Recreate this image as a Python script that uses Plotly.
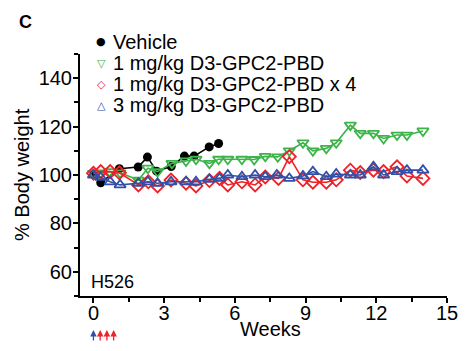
import plotly.graph_objects as go

# ---------------- data ----------------
veh_weeks = [0, 0.31, 1.1, 1.9, 2.29, 2.68, 3.3, 3.86, 4.27, 4.91, 5.31]
veh_bw = [100.4, 96.8, 102.6, 103.3, 107.4, 101.6, 103.5, 107.8, 107.8, 111.6, 113.0]

g_weeks = [0, 0.31, 0.68, 1.13, 1.91, 2.31, 2.72, 3.33, 3.93, 4.35, 4.92, 5.31, 5.7,
           6.3, 6.82, 7.29, 7.82, 8.31, 8.89, 9.31, 9.88, 10.3, 10.9, 11.32, 11.88,
           12.31, 12.88, 13.3, 13.98]
g_bw = [100.7, 100.9, 101.4, 100.9, 97.9, 102.8, 101.4, 104.8, 105.8, 106.5, 104.8,
        106.5, 106.5, 106.5, 106.4, 107.7, 107.5, 110.0, 113.3, 110.0, 111.0, 113.3,
        120.6, 117.2, 117.2, 115.1, 116.5, 116.5, 118.2]

r_weeks = [0, 0.31, 0.71, 1.1, 1.91, 2.33, 2.72, 3.29, 3.93, 4.35, 4.92, 5.35, 5.7,
           6.3, 6.86, 7.29, 7.85, 8.31, 8.89, 9.31, 9.88, 10.3, 10.9, 11.32, 11.88,
           12.31, 12.88, 13.3, 13.98]
r_bw = [100.7, 101.4, 101.4, 100.9, 95.9, 97.2, 95.5, 97.9, 96.6, 95.5, 97.7, 98.6,
        95.9, 97.2, 95.9, 99.2, 98.6, 107.6, 98.0, 97.0, 97.0, 98.0, 102.0, 101.0,
        102.0, 101.4, 103.4, 99.6, 98.6]

b_weeks = [0, 0.31, 0.71, 1.13, 1.91, 2.31, 2.72, 3.29, 3.93, 4.35, 4.92, 5.35, 5.7,
           6.3, 6.86, 7.29, 7.78, 8.31, 8.89, 9.31, 9.88, 10.3, 10.9, 11.32, 11.88,
           12.31, 12.88, 13.3, 13.98]
b_bw = [100.0, 99.0, 97.2, 95.9, 96.6, 97.2, 96.6, 97.2, 97.2, 97.2, 98.2, 98.6,
        100.0, 99.3, 100.0, 99.3, 100.0, 98.6, 99.6, 101.4, 99.3, 100.4, 100.0, 100.0,
        103.4, 100.0, 101.4, 102.0, 102.0]

dose_blue_weeks = [0]
dose_red_weeks = [2 / 7, 4 / 7, 6 / 7]

names = ["Vehicle", "1 mg/kg D3-GPC2-PBD", "1 mg/kg D3-GPC2-PBD x 4", "3 mg/kg D3-GPC2-PBD"]
colors = ["#000000", "#3cb44a", "#ee2229", "#3050a8"]
x_ticks = [0, 3, 6, 9, 12, 15]
y_ticks = [60, 80, 100, 120, 140]

# ---------------- figure ----------------
FONT = "Liberation Sans, Arial, sans-serif"
OFF = 8  # default page body margin
W, H = 471 - OFF, 351 - OFF
ML, MR, MT, MB = 72, 24, 46, 55
PW, PH = W - ML - MR, H - MT - MB


def px(x):  # page pixel -> paper x
    return (x - OFF - ML) / PW


def py(y):  # page pixel -> paper y
    return (H - MB - (y - OFF)) / PH


fig = go.Figure()
fig.add_trace(go.Scatter(x=veh_weeks, y=veh_bw, mode="lines+markers", name=names[0],
                         line=dict(color=colors[0], width=1.6),
                         marker=dict(symbol="circle", size=9, color=colors[0])))
fig.add_trace(go.Scatter(x=g_weeks, y=g_bw, mode="lines+markers", name=names[1],
                         line=dict(color=colors[1], width=1.6),
                         marker=dict(symbol="triangle-down-open", size=10, color=colors[1],
                                     line=dict(width=1.8))))
fig.add_trace(go.Scatter(x=r_weeks, y=r_bw, mode="lines+markers", name=names[2],
                         line=dict(color=colors[2], width=1.6),
                         marker=dict(symbol="diamond-open", size=10, color=colors[2],
                                     line=dict(width=1.8))))
fig.add_trace(go.Scatter(x=b_weeks, y=b_bw, mode="lines+markers", name=names[3],
                         line=dict(color=colors[3], width=1.6),
                         marker=dict(symbol="triangle-up-open", size=10, color=colors[3],
                                     line=dict(width=1.8))))

annotations = []
# legend built from annotations
sym = ["●", "▽", "◇", "△"]
leg_y = [42, 63, 84, 105]
for s, n, c, yy in zip(sym, names, colors, leg_y):
    annotations.append(dict(x=px(101), y=py(yy), xref="paper", yref="paper", text="<b>" + s + "</b>",
                            showarrow=False, xanchor="center", yanchor="middle",
                            font=dict(family="DejaVu Sans", size=11, color=c)))
    annotations.append(dict(x=px(111), y=py(yy), xref="paper", yref="paper", text=n,
                            showarrow=False, xanchor="left", yanchor="middle",
                            font=dict(family=FONT, size=20, color="black")))

annotations.append(dict(x=px(25), y=py(10), xref="paper", yref="paper", text="<b>C</b>",
                        showarrow=False, xanchor="center", yanchor="top",
                        font=dict(family=FONT, size=18, color="black")))
annotations.append(dict(x=px(89), y=py(282), xref="paper", yref="paper", text="H526",
                        showarrow=False, xanchor="left", yanchor="middle",
                        font=dict(family=FONT, size=18, color="black")))
annotations.append(dict(x=px(270), y=py(329), xref="paper", yref="paper", text="Weeks",
                        showarrow=False, xanchor="center", yanchor="middle",
                        font=dict(family=FONT, size=20, color="black")))
annotations.append(dict(x=px(22), y=0.5, xref="paper", yref="paper", text="% Body weight",
                        showarrow=False, xanchor="center", yanchor="middle", textangle=-90,
                        font=dict(family=FONT, size=20, color="black")))

for wk in dose_blue_weeks:
    annotations.append(dict(x=wk, y=py(330), xref="x", yref="paper", text="",
                            showarrow=True, ax=0, ay=12, arrowhead=2, arrowsize=1,
                            arrowwidth=1.3, arrowcolor=colors[3]))
for wk in dose_red_weeks:
    annotations.append(dict(x=wk, y=py(330), xref="x", yref="paper", text="",
                            showarrow=True, ax=0, ay=12, arrowhead=2, arrowsize=1,
                            arrowwidth=1.3, arrowcolor=colors[2]))

fig.update_layout(
    width=W, height=H,
    margin=dict(l=ML, r=MR, t=MT, b=MB, autoexpand=False),
    paper_bgcolor="white", plot_bgcolor="white",
    showlegend=False,
    font=dict(family=FONT, size=20, color="black"),
    annotations=annotations,
    xaxis=dict(range=[-0.57, 15], tickvals=x_ticks, ticktext=[str(v) for v in x_ticks],
               showline=True, linecolor="black", linewidth=2, showgrid=False,
               zeroline=False, ticks="outside", ticklen=5, tickwidth=1.5, tickcolor="black",
               ticklabelstandoff=-7,
               minor=dict(dtick=1.5, tick0=0, ticks="outside", ticklen=4, tickwidth=1.5,
                          tickcolor="black", showgrid=False),
               tickfont=dict(family=FONT, size=20)),
    yaxis=dict(range=[50, 150], tickvals=y_ticks, ticktext=[str(v) for v in y_ticks],
               showline=True, linecolor="black", linewidth=2, showgrid=False,
               zeroline=False, ticks="outside", ticklen=5, tickwidth=1.5, tickcolor="black",
               ticklabelstandoff=-3,
               minor=dict(dtick=10, tick0=50, ticks="outside", ticklen=4, tickwidth=1.5,
                          tickcolor="black", showgrid=False),
               tickfont=dict(family=FONT, size=20)),
)

fig.write_html("out.html")
